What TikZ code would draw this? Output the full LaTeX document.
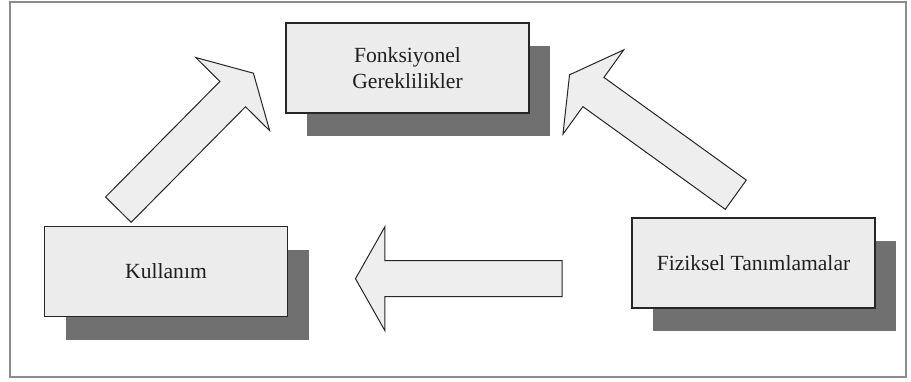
\documentclass[tikz,border=0pt]{standalone}
\usepackage{fontspec}
\setmainfont{Liberation Serif}
\usetikzlibrary{shapes.arrows,shadows}

\begin{document}
\begin{tikzpicture}[
  x=1pt, y=-1pt,
  box/.style={rectangle, draw=black!85, line width=1.2pt, fill=gray!15, align=center, text=black!88,
    font=\fontsize{21.6}{26.7}\selectfont, minimum width=243pt, minimum height=90pt, inner sep=2pt,
    drop shadow={shadow xshift=21pt, shadow yshift=-23pt, fill=black!56, opacity=1}},
  flow/.style={single arrow, draw=black!85, line width=1pt, fill=gray!13, inner xsep=0pt, inner ysep=17.5pt,
    single arrow head extend=34pt, single arrow tip angle=121, anchor=tail},
  frame/.style={draw=gray!90, line width=1.5pt},
]
\useasboundingbox (0,0) rectangle (911,381);
\draw[frame] (10,2) rectangle (906,377);

% === BOXES ===
\node[box] (fonk) at (407.5,68) {Fonksiyonel\\Gereklilikler};
\node[box] (kull) at (166,271.5) {Kullanım};
\node[box] (fiz) at (753.5,263) {Fiziksel Tanımlamalar};

% === BLOCK ARROWS (tail placed next to the source box) ===
\node[flow, rotate=45.3, minimum height=192pt] (kull2fonk) at (118,210) {};
\node[flow, rotate=144.2, minimum height=205pt] (fiz2fonk) at (736.2,195) {};
\node[flow, rotate=180, minimum height=206.7pt] (fiz2kull) at (562.7,278.7) {};
\end{tikzpicture}
\end{document}
